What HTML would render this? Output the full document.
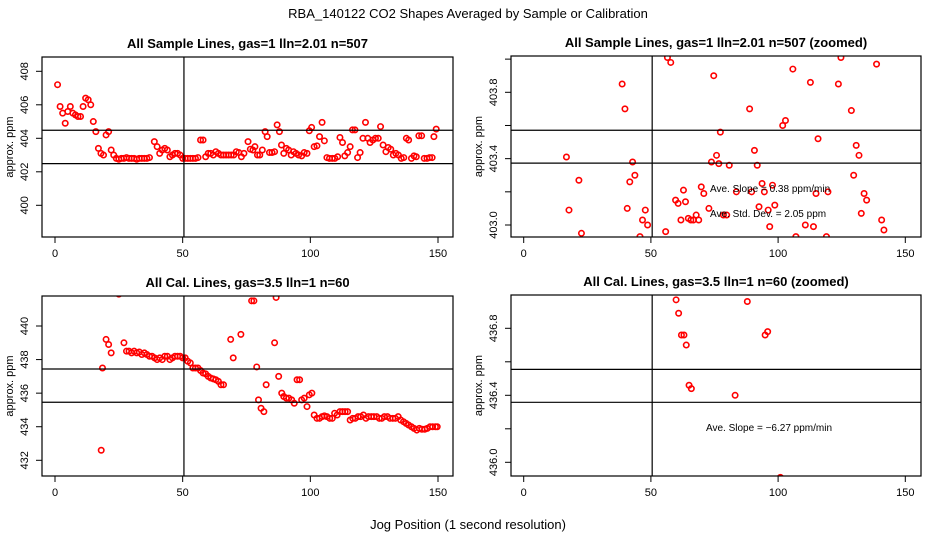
<!DOCTYPE html>
<html><head><meta charset="utf-8"><style>
html,body{margin:0;padding:0;background:#fff;}
svg{display:block;font-family:"Liberation Sans",sans-serif;}
</style></head><body>
<svg id="fig" width="936" height="540" viewBox="0 0 936 540" xmlns="http://www.w3.org/2000/svg">
<text x="468" y="18" text-anchor="middle" font-size="13">RBA_140122  CO2 Shapes Averaged by Sample or Calibration</text>
<text x="468" y="529" text-anchor="middle" font-size="13">Jog Position (1 second resolution)</text>
</svg>
<script>
// ---- Panel 1: All Sample Lines ----
const p1X = [1,2,3,4,5,6,7,8,9,10,11,12,13,14,15,16,17,18,19,20,21,22,23,24,25,26,27,28,29,30,31,32,33,34,35,36,37,38.9,40,41,42,43,44,45,46,47,48,49,50,51,52,53,54,55,56,57,58,59,60,61,62,63,64,65,66,67,68,69,70,71,72,73,74,75.6,76.5,77.5,78.3,79.3,80.2,81.2,82.3,83.1,84,85,86,87,87.9,88.7,89.6,90.6,91.5,92.5,93.4,94.4,95.4,96.6,97.6,98.7,99.6,100.5,101.5,102.6,103.6,104.6,105.5,106.5,107.5,108.6,109.6,110.7,111.6,112.6,113.5,114.6,115.6,116.5,117.5,118.5,119.5,120.6,121.6,122.5,123.4,124.5,125.5,126.6,127.5,128.5,129.6,130.5,131.5,132.5,133.5,134.5,135.6,136.6,137.6,138.5,139.6,140.6,141.5,142.5,143.6,144.6,145.7,146.7,147.7,148.4,149.3];
const p1Y = [407.2,405.9,405.5,404.9,405.6,405.9,405.5,405.4,405.3,405.3,405.9,406.4,406.3,406.0,405.0,404.4,403.4,403.1,403.0,404.2,404.4,403.3,403.0,402.8,402.75,402.8,402.8,402.85,402.8,402.8,402.8,402.75,402.8,402.8,402.8,402.8,402.85,403.8,403.5,403.1,403.3,403.4,403.3,402.9,403.0,403.1,403.1,403.0,402.8,402.8,402.8,402.8,402.8,402.8,402.85,403.9,403.9,402.9,403.1,403.1,403.0,403.2,403.1,403.0,403.0,403.0,403.0,403.0,403.0,403.2,403.15,402.9,403.1,403.8,403.35,403.3,403.5,403.0,403.0,403.3,404.4,404.1,403.15,403.15,403.2,404.8,404.4,403.6,403.1,403.4,403.3,403.0,403.2,403.1,403.0,402.95,403.15,403.1,404.45,404.65,403.5,403.55,404.1,404.95,403.85,402.85,402.8,402.8,402.8,402.9,404.05,403.75,402.95,403.15,403.5,404.5,404.5,402.85,403.15,404.0,404.95,404.0,403.75,403.9,404.0,404.0,404.7,403.6,403.2,403.45,403.35,403.0,403.1,403.0,402.8,402.85,404.0,403.9,402.8,402.95,402.9,404.15,404.15,402.8,402.8,402.85,402.85,404.1,404.55];
// ---- Panel 2: All Sample Lines (zoomed) ----
const p2X = [56.5,57.8,74.7,38.7,39.8,77.3,16.8,42.8,75.8,73.8,76.7,43.7,41.7,21.7,69.8,70.8,62.8,59.7,60.7,63.6,72.8,17.8,40.7,47.8,46.7,48.7,61.8,64.7,65.7,66.7,67.8,68.8,22.7,55.8,45.7,105.8,124.7,138.7,112.7,123.7,88.8,128.8,102.9,101.8,115.7,90.7,130.7,131.8,80.8,91.8,129.7,93.7,97.8,83.6,89.6,94.6,114.9,119.6,133.8,134.8,92.5,98.7,96.1,78.5,79.8,132.7,140.7,141.6,96.7,110.7,113.9,107,119];
const p2Y = [404.01,403.98,403.9,403.85,403.7,403.56,403.41,403.38,403.42,403.38,403.37,403.3,403.26,403.27,403.23,403.19,403.21,403.15,403.13,403.14,403.1,403.09,403.1,403.09,403.03,403.0,403.03,403.04,403.03,403.03,403.06,403.03,402.95,402.96,402.93,403.94,404.01,403.97,403.86,403.85,403.7,403.69,403.63,403.6,403.52,403.45,403.48,403.42,403.36,403.36,403.3,403.25,403.24,403.2,403.2,403.2,403.19,403.2,403.19,403.15,403.11,403.12,403.09,403.06,403.06,403.07,403.03,402.97,402.99,403.0,402.99,402.93,402.93];
// ---- Panel 3: All Cal. Lines ----
const p3X = [18.1,18.6,20,21,22,25,27,28,29,30,31,32,33,34,35,36,37,38,39,40,41,42,43,44,45,46,47,48,49,50,51,52,53,54,55,56,57,58,59,60,61,62,63,64,65,66,68.8,69.8,72.8,77,77.9,86.6,86,79,87.6,82.7,88.8,79.7,80.7,81.8,89.6,90.6,91.6,92.7,93.7,94.8,95.8,96.6,97.6,98.7,99.6,100.6,101.5,102.6,103.6,104.6,105.5,106.5,107.6,108.6,109.5,110.5,111.6,112.6,113.6,114.6,115.6,116.6,117.6,118.7,119.7,120.8,121.8,122.8,123.9,124.9,126,127,128,129,130.2,131.2,132.3,133.3,134.4,135.4,136.5,137.5,138.5,139.6,140.6,141.7,142.7,143.7,144.8,145.8,146.9,147.9,149,149.7];
const p3Y = [432.6,437.5,439.2,438.9,438.4,441.9,439.0,438.5,438.5,438.4,438.5,438.4,438.45,438.3,438.4,438.3,438.2,438.2,438.1,438.0,438.1,438.0,438.2,438.2,438.0,438.1,438.2,438.2,438.2,438.1,438.1,437.9,437.8,437.5,437.5,437.5,437.35,437.2,437.15,437.0,436.9,436.85,436.8,436.7,436.5,436.5,439.2,438.1,439.5,441.5,441.5,441.7,439.0,437.56,437.0,436.5,436.0,435.6,435.1,434.9,435.8,435.7,435.7,435.6,435.4,436.8,436.8,435.6,435.7,435.2,435.9,436.0,434.7,434.5,434.5,434.6,434.65,434.6,434.5,434.5,434.8,434.7,434.9,434.9,434.9,434.9,434.4,434.5,434.5,434.6,434.6,434.7,434.5,434.6,434.6,434.6,434.6,434.5,434.5,434.6,434.6,434.5,434.5,434.5,434.6,434.4,434.3,434.2,434.1,434.0,433.9,433.8,433.9,433.85,433.85,433.9,434.0,434.0,434.0,434.0];
// ---- Panel 4: All Cal. Lines (zoomed) ----
const p4X = [59.9,87.9,60.9,62,63,63.9,94.9,95.9,65,65.9,83.1,93,100.9];
const p4Y = [436.97,436.96,436.89,436.76,436.76,436.7,436.76,436.78,436.46,436.44,436.4,435.9,435.91];

const xTicks = [0,50,100,150];
const p1Ticks = [400,402,404,406,408];
const p2Ticks = [403.0,403.2,403.4,403.6,403.8,404.0];
const p2TickLabels = ["403.0","","403.4","","403.8",""];
const p3Ticks = [432,434,436,438,440];
const p4Ticks = [436.0,436.2,436.4,436.6,436.8];
const p4TickLabels = ["436.0","","436.4","","436.8"];
const p1HLines = [404.48,402.49];
const p2HLines = [403.571,403.373];
const p3HLines = [437.44,435.46];
const p4HLines = [436.555,436.358];
const vLineX = 50.5;

const NS = "http://www.w3.org/2000/svg";
const svg = document.getElementById('fig');
function mk(tag, attrs, parent){
  const e = document.createElementNS(NS, tag);
  for (const k in attrs) e.setAttribute(k, attrs[k]);
  (parent||svg).appendChild(e);
  return e;
}
function drawPanel(id, cfg){
  const g = mk('g', {});
  
  
  const xs = v => cfg.x0 + (v - 0) * (cfg.x150 - cfg.x0) / 150;
  const ys = v => cfg.yA + (cfg.vA - v) * (cfg.yB - cfg.yA) / (cfg.vA - cfg.vB);
  const cp = mk('clipPath', {id: id + '-clip'}, g);
  mk('rect', {x: cfg.l, y: cfg.t, width: cfg.r - cfg.l, height: cfg.b - cfg.t}, cp);
  // title
  const t = mk('text', {x: (cfg.l + cfg.r) / 2, y: cfg.t - 9, 'text-anchor': 'middle', 'font-size': 13, 'font-weight': 'bold'}, g);
  t.textContent = cfg.title;
  
  
  // points
  const pg = mk('g', {'clip-path': 'url(#' + id + '-clip)'}, g);
  
  
  for (let i = 0; i < cfg.X.length; i++) {
    const c = mk('circle', {cx: xs(cfg.X[i]), cy: ys(cfg.Y[i]), r: 2.7, fill: 'none', stroke: '#ff0000', 'stroke-width': 1.6}, pg);
    
    
  }
  // ref lines
  cfg.H.forEach(h => {
    const ln = mk('line', {x1: cfg.l, x2: cfg.r, y1: ys(h), y2: ys(h), stroke: '#000', 'stroke-width': 1.2}, g);
    
    
  });
  const vl = mk('line', {x1: xs(vLineX), x2: xs(vLineX), y1: cfg.t, y2: cfg.b, stroke: '#000', 'stroke-width': 1.2}, g);
  
  
  // box
  const box = mk('rect', {x: cfg.l, y: cfg.t, width: cfg.r - cfg.l, height: cfg.b - cfg.t, fill: 'none', stroke: '#000', 'stroke-width': 1.2}, g);
  
  
  // x ticks
  xTicks.forEach(v => {
    const x = xs(v);
    mk('line', {x1: x, x2: x, y1: cfg.b, y2: cfg.b + 6, stroke: '#000', 'stroke-width': 1}, g);
    const tl = mk('text', {x: x, y: cfg.b + 20, 'text-anchor': 'middle', 'font-size': 11}, g);
    tl.textContent = String(v);
    
    
  });
  // y ticks
  cfg.yT.forEach((v, i) => {
    const y = ys(v);
    mk('line', {x1: cfg.l - 6, x2: cfg.l, y1: y, y2: y, stroke: '#000', 'stroke-width': 1}, g);
    const lab = cfg.yL ? cfg.yL[i] : String(v);
    if (lab) {
      const tl = mk('text', {x: cfg.l - 14, y: y, 'text-anchor': 'middle', 'font-size': 11, transform: 'rotate(-90 ' + (cfg.l - 14) + ' ' + y + ')'}, g);
      tl.textContent = lab;
      
      
    }
  });
  const yl = (cfg.t + cfg.b) / 2;
  const ya = mk('text', {x: cfg.l - 29, y: yl, 'text-anchor': 'middle', 'font-size': 11, transform: 'rotate(-90 ' + (cfg.l - 29) + ' ' + yl + ')'}, g);
  ya.textContent = 'approx. ppm';
  
  
  (cfg.notes || []).forEach(n => {
    const nt = mk('text', {x: n[0], y: n[1], 'font-size': 10}, g);
    nt.textContent = n[2];
    
    
  });
}
drawPanel('sample', {l:42,t:57,r:453,b:237,x0:55,x150:438,yA:71.3,vA:408,yB:205.3,vB:400,X:p1X,Y:p1Y,H:p1HLines,yT:p1Ticks,title:'All Sample Lines, gas=1 lln=2.01 n=507'});
drawPanel('sample-zoomed', {l:511,t:56,r:921,b:237,x0:523.7,x150:905.3,yA:92.3,vA:403.8,yB:225,vB:403.0,X:p2X,Y:p2Y,H:p2HLines,yT:p2Ticks,yL:p2TickLabels,title:'All Sample Lines, gas=1 lln=2.01 n=507 (zoomed)',notes:[[710,192,'Ave. Slope =  0.38  ppm/min'],[710,217,'Ave. Std. Dev. =  2.05  ppm']]});
drawPanel('cal', {l:42,t:296,r:453,b:476,x0:55,x150:438,yA:326,vA:440,yB:460.3,vB:432,X:p3X,Y:p3Y,H:p3HLines,yT:p3Ticks,title:'All Cal. Lines, gas=3.5 lln=1 n=60'});
drawPanel('cal-zoomed', {l:511,t:295,r:921,b:476,x0:523.7,x150:905.3,yA:328.3,vA:436.8,yB:462.3,vB:436.0,X:p4X,Y:p4Y,H:p4HLines,yT:p4Ticks,yL:p4TickLabels,title:'All Cal. Lines, gas=3.5 lln=1 n=60 (zoomed)',notes:[[706,431,'Ave. Slope =  \u22126.27  ppm/min']]});
</script>
</body></html>
